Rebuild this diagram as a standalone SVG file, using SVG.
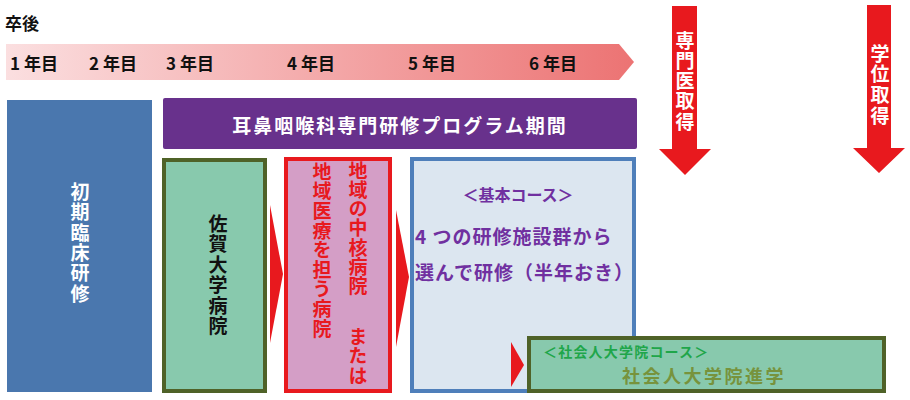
<svg xmlns="http://www.w3.org/2000/svg" width="910" height="400" viewBox="0 0 910 400">
<defs>
<linearGradient id="tl" x1="0" y1="0" x2="1" y2="0">
<stop offset="0" stop-color="#fbdfe0"/>
<stop offset="1" stop-color="#ec7373"/>
</linearGradient>
</defs>
<style>
text{font-family:"Noto Sans CJK JP","Noto Sans",sans-serif;font-weight:bold}
.yr{font-size:17px;fill:#111}
.v{font-size:19px;writing-mode:vertical-rl}
.w{fill:#ffffff}
.r{fill:#e8191e}
.k{fill:#111}
.p{fill:#7030a0}
.chev{fill:#e8191e}
.gbox{fill:#88c9ad;stroke:#4f6228;stroke-width:4}
</style>
<rect width="910" height="400" fill="#ffffff"/>

<g id="header">
<text x="5" y="30" style="font-size:17px" fill="#111">卒後</text>
</g>

<g id="timeline">
<polygon points="6,44 619,44 634,62 619,80 6,80" fill="url(#tl)"/>
<text class="yr" y="70"><tspan x="10">1 年目</tspan><tspan x="89">2 年目</tspan><tspan x="166">3 年目</tspan><tspan x="287">4 年目</tspan><tspan x="408">5 年目</tspan><tspan x="529">6 年目</tspan></text>
</g>

<g id="senmon-arrow">
<polygon points="672,6 697,6 697,149 711,149 685,175 659,149 672,149" fill="#e8191e"/>
<text class="v w" x="685" y="31" style="letter-spacing:1.2px">専門医取得</text>
</g>

<g id="gakui-arrow">
<polygon points="867,5 891,5 891,148 905,148 879,173 853,148 867,148" fill="#e8191e"/>
<text class="v w" x="880" y="44" style="letter-spacing:1.7px">学位取得</text>
</g>

<g id="shoki">
<rect x="7" y="100" width="145" height="292" fill="#4a77ae"/>
<text class="v w" x="80" y="182" style="letter-spacing:1.4px">初期臨床研修</text>
</g>

<g id="program">
<rect x="163" y="98" width="474" height="51" rx="2" fill="#68318c"/>
<text x="400" y="133" class="w" style="font-size:19px;letter-spacing:2px" text-anchor="middle">耳鼻咽喉科専門研修プログラム期間</text>
</g>

<g id="saga">
<rect x="164" y="160" width="101" height="231" class="gbox"/>
<text class="v k" x="218" y="214" style="letter-spacing:1.5px">佐賀大学病院</text>
</g>

<g id="chiiki">
<rect x="286" y="159" width="104" height="232" fill="#d49ec6" stroke="#e8191e" stroke-width="4"/>
<text class="v r" x="358" y="161" style="letter-spacing:0.2px">地域の中核病院</text>
<text class="v r" x="358" y="327" style="letter-spacing:0.5px">または</text>
<text class="v r" x="322" y="162" style="letter-spacing:0.6px">地域医療を担う病院</text>
</g>

<g id="kihon">
<rect x="412" y="159" width="222" height="232" fill="#dce6f0" stroke="#4f7fba" stroke-width="4"/>
<text x="518" y="201" class="p" style="font-size:16px" text-anchor="middle">＜基本コース＞</text>
<text x="415" y="244" class="p" style="font-size:19px;letter-spacing:1px">4 つの研修施設群から</text>
<text x="415" y="280" class="p" style="font-size:19px;letter-spacing:1px">選んで研修（半年おき）</text>
</g>

<g id="shakaijin">
<rect x="529" y="338" width="355" height="53" class="gbox"/>
<text x="543" y="357" style="font-size:14px;letter-spacing:1.2px" fill="#1fa64a">＜社会人大学院コース＞</text>
<text x="622" y="383" style="font-size:18px;letter-spacing:2.5px" fill="#77933c">社会人大学院進学</text>
</g>

<g id="connectors">
<polygon class="chev" points="270,205 283,274 270,343"/>
<polygon class="chev" points="396,210 409,277 396,347"/>
<polygon class="chev" points="511,342 524,365 511,387"/>
</g>
</svg>
